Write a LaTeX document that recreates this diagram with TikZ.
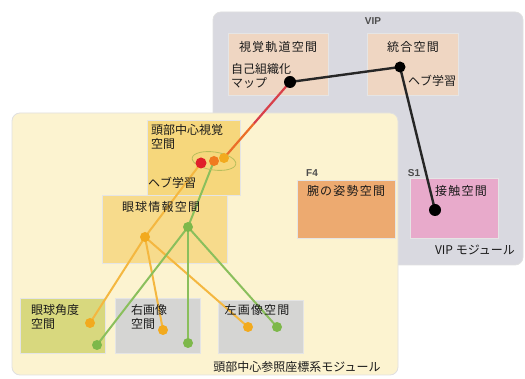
\documentclass[tikz,border=0pt]{standalone}
\usepackage{fontspec}
\setmainfont{Noto Sans CJK JP}
\newfontfamily\jpsp[LetterSpace=10]{Noto Sans CJK JP}
\newfontfamily\latb{Liberation Sans}
\usetikzlibrary{calc}
\definecolor{vipgray}{HTML}{D9D9E0}
\definecolor{cream}{HTML}{FCF3D0}
\definecolor{beige}{HTML}{EFD6C2}
\definecolor{armor}{HTML}{EDAA70}
\definecolor{pinkt}{HTML}{E8AACB}
\definecolor{hvyel}{HTML}{F6D77C}
\definecolor{eyeyel}{HTML}{F7DB8C}
\definecolor{olive}{HTML}{D8D87E}
\definecolor{boxgray}{HTML}{D5D5D3}
\definecolor{dorange}{HTML}{F2AA1E}
\definecolor{dgreen}{HTML}{7DB84A}
\definecolor{dred}{HTML}{E0202A}
\definecolor{mred}{HTML}{D8404A}
\definecolor{morange}{HTML}{F07A20}
\definecolor{ellc}{HTML}{B8BE5C}
\definecolor{txt}{HTML}{1A1A1A}
\pgfdeclarelayer{back}
\pgfdeclarelayer{lines}
\pgfsetlayers{back,lines,main}
\tikzset{
  module/.style={rectangle, rounded corners=8pt, anchor=north west, outer sep=0pt, inner sep=0pt, draw=black!12, line width=0.8pt},
  space/.style={rectangle, anchor=north west, outer sep=0pt, inner sep=0pt, draw=black!10, line width=0.6pt},
  lbl/.style={text=txt, inner sep=0pt, font=\fontsize{12}{13.5}\selectfont},
  slbl/.style={text=txt, inner sep=0pt, font=\jpsp\fontsize{12}{13.5}\selectfont},
  tag/.style={text=black!70, inner sep=0pt, font=\latb\bfseries\fontsize{10}{11}\selectfont},
  bdot/.style={circle, fill=black, inner sep=0pt, minimum size=12pt},
  odot/.style={circle, fill=dorange, inner sep=0pt, minimum size=10pt},
  gdot/.style={circle, fill=dgreen, inner sep=0pt, minimum size=10pt},
  bline/.style={line width=2.4pt, draw=black!85},
  oline/.style={line width=2pt, draw=dorange!85},
  gline/.style={line width=2pt, draw=dgreen!90},
}
\begin{document}
\begin{tikzpicture}[x=1pt,y=-1pt]
\useasboundingbox (0,0) rectangle (525,379);
\begin{pgfonlayer}{back}
\fill[white] (0,0) rectangle (525,379);
\node[module, fill=vipgray, minimum width=310, minimum height=253] (vip) at (213,12) {};
\node[module, fill=cream, minimum width=386, minimum height=262] (head) at (12,113) {};
\node[space, fill=beige, minimum width=100, minimum height=62] (orb) at (228,33) {};
\node[space, fill=beige, minimum width=91, minimum height=62] (intg) at (367,33) {};
\node[space, fill=armor, minimum width=98, minimum height=58] (arm) at (297,180) {};
\node[space, fill=pinkt, minimum width=88, minimum height=60] (touch) at (410,178) {};
\node[space, fill=hvyel, minimum width=93, minimum height=75] (hv) at (147,120) {};
\node[space, fill=eyeyel, minimum width=125, minimum height=68] (eye) at (102,195) {};
\node[space, fill=olive, minimum width=85, minimum height=55] (ang) at (20,298) {};
\node[space, fill=boxgray, minimum width=85, minimum height=55] (rimg) at (115,298) {};
\node[space, fill=boxgray, minimum width=85, minimum height=53] (limg) at (218,300) {};
\end{pgfonlayer}
% labels
\node[tag] (viptag) at (373,21) {VIP};
\node[tag] (f4tag) at (312,173) {F4};
\node[tag] (s1tag) at (414,173) {S1};
\node[slbl] (orbl) at (278,47) {視覚軌道空間};
\node[slbl] (intgl) at (413,47) {統合空間};
\node[lbl, anchor=west, align=left] (somf) at (231,76) {自己組織化\\マップ};
\node[lbl] (hebb1) at (432,81) {ヘブ学習};
\node[slbl] (arml) at (346,191) {腕の姿勢空間};
\node[slbl] (touchl) at (461,191) {接触空間};
\node[lbl] (vipl) at (475,250) {VIP モジュール};
\node[lbl, anchor=west, align=left] (hvl) at (151,137) {頭部中心視覚\\空間};
\node[lbl] (hebb2) at (172,183) {ヘブ学習};
\node[slbl] (eyel) at (161,207) {眼球情報空間};
\node[lbl, anchor=west, align=left] (angl) at (31,317) {眼球角度\\空間};
\node[lbl, anchor=west, align=left] (rimgl) at (131,317) {右画像\\空間};
\node[slbl] (limgl) at (257,310) {左画像空間};
\node[lbl] (headl) at (297,367) {頭部中心参照座標系モジュール};
% ellipse around the three dots
\draw[ellc, line width=0.8pt, rotate around={-8:(214,161)}] (214,161) ellipse [x radius=22, y radius=9];
% dots
\node[bdot] (smap) at (290,82) {};
\node[bdot, minimum size=11pt] (intd) at (400,67) {};
\node[bdot] (touchd) at (435,210) {};
\node[circle, fill=dred, inner sep=0pt, minimum size=11pt] (hvr) at (201,163) {};
\node[circle, fill=morange, inner sep=0pt, minimum size=10pt] (hvo) at (214,161) {};
\node[circle, fill=dorange, inner sep=0pt, minimum size=10pt] (hvy) at (224,158) {};
\node[odot] (eo) at (145,237) {};
\node[gdot] (eg) at (188,227) {};
\node[odot] (ao) at (90,323) {};
\node[gdot] (ag) at (97,345) {};
\node[odot] (ro) at (163,330) {};
\node[gdot] (rg) at (188,343) {};
\node[odot] (lo) at (248,327) {};
\node[gdot] (lg) at (277,327) {};
\coordinate (redmid) at ($(smap)!0.55!(hvy)$);
\begin{pgfonlayer}{lines}
\draw[bline] (smap.center) -- (intd.center) -- (touchd.center);
\draw[line width=2.2pt, draw=mred] (smap.center) -- (redmid);
\draw[line width=2.2pt, draw=morange!80!mred] (redmid) -- (hvy.center);
\draw[oline] (hvr.center) -- (eo.center);
\draw[oline] (eo.center) -- (ao.center);
\draw[oline] (eo.center) -- (ro.center);
\draw[oline] (eo.center) -- (lo.center);
\draw[gline] (hvo.center) -- (eg.center);
\draw[gline] (eg.center) -- (ag.center);
\draw[gline] (eg.center) -- (rg.center);
\draw[gline] (eg.center) -- (lg.center);
\end{pgfonlayer}
\end{tikzpicture}
\end{document}
